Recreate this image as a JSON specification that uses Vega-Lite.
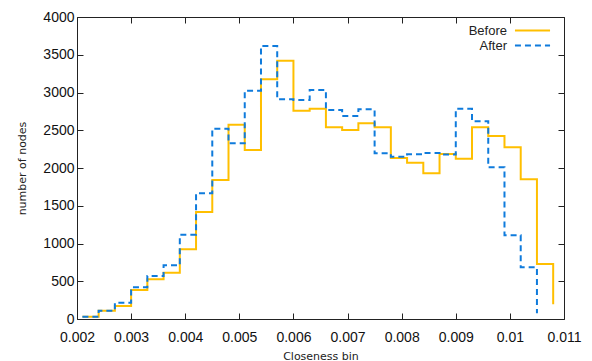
{
  "$schema": "https://vega.github.io/schema/vega-lite/v6.json",
  "autosize": {"type": "none"},
  "width": 487,
  "height": 302,
  "padding": {"left": 77, "top": 17, "right": 28, "bottom": 42},
  "background": "white",
  "config": {
    "view": {"stroke": "#222", "strokeWidth": 1},
    "font": "Liberation Sans",
    "axis": {"grid": false, "domain": false, "tickColor": "#222", "tickSize": -6, "labelOverlap": false, "labelFlush": false, "labelColor": "#111", "labelFont": "Liberation Sans", "labelFontSize": 14, "titleFont": "DejaVu Sans", "titleFontSize": 11, "titleFontWeight": "normal", "titleColor": "#222"}
  },
  "data": {
    "values": [
      {"x": 0.0021, "y": 30, "series": "Before"},
      {"x": 0.0024, "y": 110, "series": "Before"},
      {"x": 0.0027, "y": 172, "series": "Before"},
      {"x": 0.0030, "y": 384, "series": "Before"},
      {"x": 0.0033, "y": 525, "series": "Before"},
      {"x": 0.0036, "y": 613, "series": "Before"},
      {"x": 0.0039, "y": 923, "series": "Before"},
      {"x": 0.0042, "y": 1417, "series": "Before"},
      {"x": 0.0045, "y": 1841, "series": "Before"},
      {"x": 0.0048, "y": 2574, "series": "Before"},
      {"x": 0.0051, "y": 2238, "series": "Before"},
      {"x": 0.0054, "y": 3175, "series": "Before"},
      {"x": 0.0057, "y": 3421, "series": "Before"},
      {"x": 0.0060, "y": 2759, "series": "Before"},
      {"x": 0.0063, "y": 2786, "series": "Before"},
      {"x": 0.0066, "y": 2539, "series": "Before"},
      {"x": 0.0069, "y": 2503, "series": "Before"},
      {"x": 0.0072, "y": 2592, "series": "Before"},
      {"x": 0.0075, "y": 2539, "series": "Before"},
      {"x": 0.0078, "y": 2132, "series": "Before"},
      {"x": 0.0081, "y": 2070, "series": "Before"},
      {"x": 0.0084, "y": 1930, "series": "Before"},
      {"x": 0.0087, "y": 2186, "series": "Before"},
      {"x": 0.0090, "y": 2124, "series": "Before"},
      {"x": 0.0093, "y": 2539, "series": "Before"},
      {"x": 0.0096, "y": 2424, "series": "Before"},
      {"x": 0.0099, "y": 2274, "series": "Before"},
      {"x": 0.0102, "y": 1850, "series": "Before"},
      {"x": 0.0105, "y": 728, "series": "Before"},
      {"x": 0.0108, "y": 195, "series": "Before"},
      {"x": 0.0021, "y": 30, "series": "After"},
      {"x": 0.0024, "y": 110, "series": "After"},
      {"x": 0.0027, "y": 216, "series": "After"},
      {"x": 0.0030, "y": 420, "series": "After"},
      {"x": 0.0033, "y": 570, "series": "After"},
      {"x": 0.0036, "y": 711, "series": "After"},
      {"x": 0.0039, "y": 1117, "series": "After"},
      {"x": 0.0042, "y": 1665, "series": "After"},
      {"x": 0.0045, "y": 2521, "series": "After"},
      {"x": 0.0048, "y": 2327, "series": "After"},
      {"x": 0.0051, "y": 3024, "series": "After"},
      {"x": 0.0054, "y": 3616, "series": "After"},
      {"x": 0.0057, "y": 2910, "series": "After"},
      {"x": 0.0060, "y": 2900, "series": "After"},
      {"x": 0.0063, "y": 3033, "series": "After"},
      {"x": 0.0066, "y": 2768, "series": "After"},
      {"x": 0.0069, "y": 2689, "series": "After"},
      {"x": 0.0072, "y": 2777, "series": "After"},
      {"x": 0.0075, "y": 2194, "series": "After"},
      {"x": 0.0078, "y": 2150, "series": "After"},
      {"x": 0.0081, "y": 2181, "series": "After"},
      {"x": 0.0084, "y": 2200, "series": "After"},
      {"x": 0.0087, "y": 2180, "series": "After"},
      {"x": 0.0090, "y": 2786, "series": "After"},
      {"x": 0.0093, "y": 2618, "series": "After"},
      {"x": 0.0096, "y": 2009, "series": "After"},
      {"x": 0.0099, "y": 1108, "series": "After"},
      {"x": 0.0102, "y": 685, "series": "After"},
      {"x": 0.0105, "y": 75, "series": "After"}
    ]
  },
  "layer": [
    {
      "mark": {"type": "line", "interpolate": "step-after", "strokeWidth": 2},
      "encoding": {
        "x": {"field": "x", "type": "quantitative", "scale": {"domain": [0.002, 0.011], "nice": false, "zero": false}, "axis": {"values": [0.002, 0.003, 0.004, 0.005, 0.006, 0.007, 0.008, 0.009, 0.01, 0.011], "format": ".3~f", "title": "Closeness bin", "labelPadding": 17, "titleY": 31}},
        "y": {"field": "y", "type": "quantitative", "scale": {"domain": [0, 4000], "nice": false}, "axis": {"values": [0, 500, 1000, 1500, 2000, 2500, 3000, 3500, 4000], "format": "d", "title": "number of nodes", "labelPadding": 9, "titleX": -50}},
        "color": {"field": "series", "type": "nominal", "sort": ["Before", "After"], "scale": {"domain": ["Before", "After"], "range": ["#FFBF00", "#0F7BDC"]}, "legend": {"title": null, "orient": "none", "legendX": 448, "legendY": 6, "symbolType": "M-2.7,0H2.7", "symbolSize": 169, "symbolStrokeWidth": 2, "symbolFillColor": "transparent", "symbolOpacity": 1, "labelAlign": "right", "labelOffset": -33, "labelFontSize": 13, "labelFont": "Liberation Sans", "labelColor": "#222", "rowPadding": 0}},
        "strokeDash": {"field": "series", "type": "nominal", "sort": ["Before", "After"], "scale": {"domain": ["Before", "After"], "range": [[1, 0], [6, 4]]}, "legend": {"title": null, "orient": "none", "legendX": 448, "legendY": 6, "symbolType": "M-2.7,0H2.7", "symbolSize": 169, "symbolStrokeWidth": 2, "symbolFillColor": "transparent", "symbolOpacity": 1, "labelAlign": "right", "labelOffset": -33, "labelFontSize": 13, "labelFont": "Liberation Sans", "labelColor": "#222", "rowPadding": 0}}
      }
    },
    {
      "mark": {"type": "line", "opacity": 0},
      "encoding": {
        "x": {"field": "x", "type": "quantitative", "scale": {"domain": [0.002, 0.011], "nice": false, "zero": false}, "axis": {"orient": "top", "values": [0.002, 0.003, 0.004, 0.005, 0.006, 0.007, 0.008, 0.009, 0.01, 0.011], "labels": false, "title": null}},
        "y": {"field": "y", "type": "quantitative", "scale": {"domain": [0, 4000], "nice": false}, "axis": {"orient": "right", "values": [0, 500, 1000, 1500, 2000, 2500, 3000, 3500, 4000], "labels": false, "title": null}}
      }
    }
  ],
  "resolve": {"axis": {"x": "independent", "y": "independent"}}
}
